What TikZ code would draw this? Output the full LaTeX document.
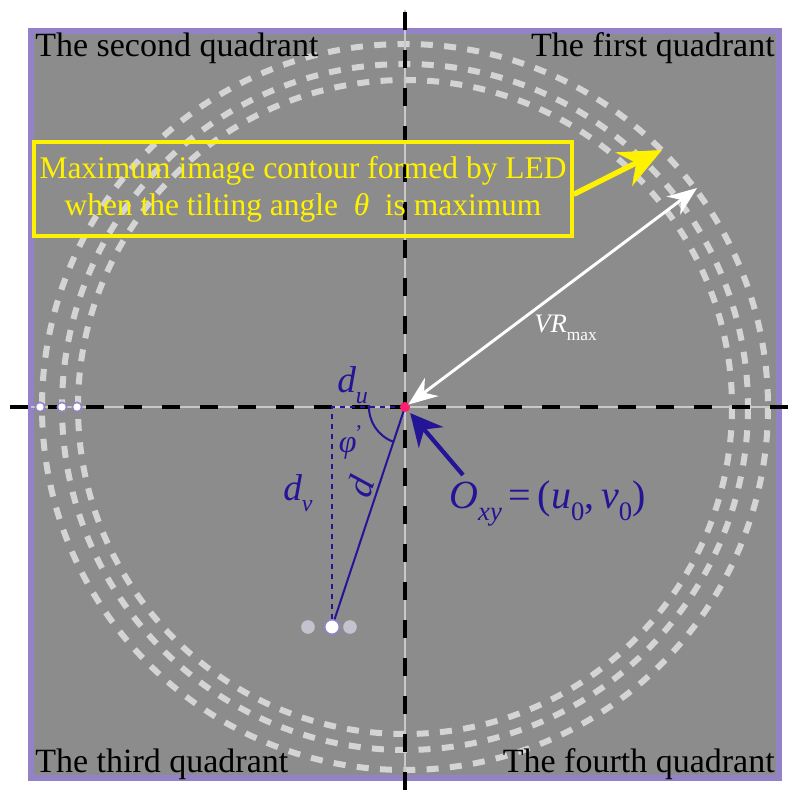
\documentclass[tikz,border=0pt]{standalone}
\usepackage{fontspec}
\setmainfont{Liberation Serif}
\usetikzlibrary{arrows.meta}
\definecolor{bggray}{RGB}{140,140,140}
\definecolor{framepurple}{RGB}{148,130,200}
\definecolor{dashgray}{RGB}{212,212,212}
\definecolor{axisgray}{RGB}{200,200,200}
\definecolor{ledblue}{RGB}{36,20,150}
\definecolor{centerpink}{RGB}{255,30,110}
\definecolor{dotgray}{RGB}{196,194,206}
% lowered subscript: size, text
\newcommand{\lsub}[2][18]{\raisebox{-0.3em}{\fontsize{#1}{#1}\selectfont #2}}
\begin{document}
\begin{tikzpicture}[x=0.75pt, y=-0.75pt,
  quadlabel/.style={inner sep=0pt, font=\fontsize{25.5}{30}\selectfont},
  bluelabel/.style={text=ledblue, inner sep=0pt, font=\fontsize{28}{32}\selectfont\itshape},
  contour/.style={dashgray, line width=4.5pt, dash pattern=on 9pt off 8.5pt},
  axis/.style={black, line width=3pt, dash pattern=on 13.5pt off 15pt},
  arrow/.style={-{Stealth[length=24pt,width=20pt]}, line width=3.5pt},
  leddot/.style={circle, draw=framepurple, line width=1.2pt, inner sep=0pt}
]
\useasboundingbox (0,0) rectangle (789,791);
% frame and image plane
\fill[white] (0,0) rectangle (789,791);
\draw[framepurple, line width=5.2pt, fill=bggray] (31,31) rectangle (779,778);
% image contours
\draw[contour] (405,407) circle[radius=363];
\draw[contour] (405,407) circle[radius=343];
\draw[contour] (405,407) circle[radius=327];
% axes
\draw[axisgray, line width=1pt] (31,407) -- (779,407);
\draw[axisgray, line width=1pt] (405,10) -- (405,778);
\draw[axis] (10,407) -- (789,407);
\draw[axis] (405,12) -- (405,791);
% quadrant labels
\node[quadlabel, anchor=base west] (q2) at (35,57) {The second quadrant};
\node[quadlabel, anchor=base east] (q1) at (775,57) {The first quadrant};
\node[quadlabel, anchor=base west] (q3) at (35,772) {The third quadrant};
\node[quadlabel, anchor=base east] (q4) at (775,772) {The fourth quadrant};
% centre and LED position
\coordinate (O) at (405,407);
\coordinate (P) at (332,627);
\coordinate (Q) at (332,407);
\draw[ledblue, line width=1.2pt, dash pattern=on 4pt off 3.5pt] (O) -- (Q) -- (P);
\draw[ledblue, line width=1.5pt] (O) -- (P);
\draw[ledblue, line width=1.5pt] (369,405) arc[start angle=183, end angle=110, radius=37];
\node[bluelabel, anchor=base west] (du) at (337,392) {d\lsub{u}};
\node[bluelabel, anchor=base west] (dv) at (283,500) {d\lsub{v}};
\node[bluelabel, rotate=71.6] (d) at (360,487) {d};
\node[bluelabel, font=\fontsize{24}{26}\selectfont\itshape] (phi) at (351,442) {φ\textsuperscript{\upshape\kern-1pt'}};
% LED images
\node[leddot, minimum size=11pt, fill=white] (led0) at (P) {};
\node[leddot, minimum size=9pt, fill=dotgray, draw=dotgray] (led1) at (308,627) {};
\node[leddot, minimum size=9pt, fill=dotgray, draw=dotgray] (led2) at (350,627) {};
\node[leddot, minimum size=7pt, fill=white] (e1) at (40,407) {};
\node[leddot, minimum size=7pt, fill=white] (e2) at (62,407) {};
\node[leddot, minimum size=7pt, fill=white] (e3) at (77,407) {};
\fill[centerpink] (O) circle[radius=5];
% maximum contour caption
\node[draw=yellow, line width=3pt, text=yellow, align=center, inner sep=0pt,
  minimum width=403pt, minimum height=70pt, font=\fontsize{23.6}{28}\selectfont] (caption) at (303,189)
  {Maximum image contour formed by LED\\when the tilting angle \ \textit{θ} \ is maximum};
\coordinate (C) at (662,150);
\draw[arrow, yellow, line width=4pt, -{Stealth[length=32pt,width=28pt]}] ([yshift=-4]caption.east) -- (C);
% maximum radius
\coordinate (R) at (697,188);
\draw[white, line width=2.2pt, {Stealth[length=22pt,width=17pt]}-{Stealth[length=22pt,width=17pt]}, shorten <=3pt] (O) -- (R);
\node[text=white, anchor=base west, inner sep=0pt, font=\fontsize{20}{24}\selectfont] (vr) at (534,332)
  {\textit{VR}\lsub[13]{max}};
% optical centre
\coordinate (B) at (463,475);
\draw[arrow, ledblue, line width=3.2pt, shorten >=6pt, -{Stealth[length=24pt,width=24pt]}] (B) -- (O);
\node[text=ledblue, anchor=base west, inner sep=0pt, font=\fontsize{30}{34}\selectfont] (oxy) at (449,508)
  {\textit{O}\lsub[20]{\textit{xy}}\,=\,(\textit{u}\lsub[20]{0},\,\textit{v}\lsub[20]{0})};
\end{tikzpicture}
\end{document}
